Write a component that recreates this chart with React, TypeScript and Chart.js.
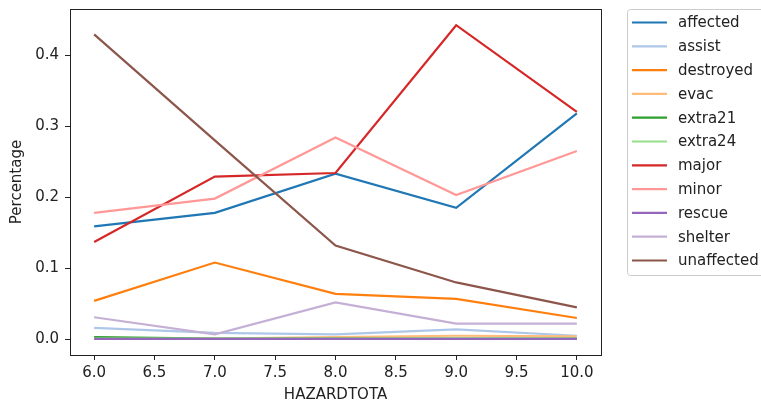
import React, { useEffect, useRef } from "react";
import { Chart, registerables } from "chart.js";

Chart.register(...registerables);

const hazard = [6, 7, 8, 9, 10];
const seriesNames = ["affected", "assist", "destroyed", "evac", "extra21", "extra24", "major", "minor", "rescue", "shelter", "unaffected"];
const affected = [0.159, 0.178, 0.233, 0.185, 0.318];
const assist = [0.016, 0.009, 0.007, 0.014, 0.005];
const destroyed = [0.054, 0.108, 0.064, 0.057, 0.030];
const evac = [0.002, 0.001, 0.003, 0.005, 0.004];
const extra21 = [0.003, 0.001, 0.001, 0.001, 0.001];
const extra24 = [0.001, 0.001, 0.001, 0.001, 0.001];
const major = [0.137, 0.229, 0.234, 0.442, 0.320];
const minor = [0.178, 0.198, 0.284, 0.203, 0.265];
const rescue = [0.0005, 0.0005, 0.0005, 0.0005, 0.0005];
const shelter = [0.031, 0.007, 0.052, 0.022, 0.022];
const unaffected = [0.429, 0.280, 0.132, 0.080, 0.045];
const seriesValues = [affected, assist, destroyed, evac, extra21, extra24, major, minor, rescue, shelter, unaffected];
const colors = ["#1f77b4", "#aec7e8", "#ff7f0e", "#ffbb78", "#2ca02c", "#98df8a", "#d62728", "#ff9896", "#9467bd", "#c5b0d5", "#8c564b"];
const xTicks = [6, 6.5, 7, 7.5, 8, 8.5, 9, 9.5, 10];
const yTicks = [0, 0.1, 0.2, 0.3, 0.4];

const FONT = "DejaVu Sans";
const FS = 15;

const framePlugin = {
  id: "frame",
  afterDatasetsDraw(chart: any) {
    const { ctx, chartArea } = chart;
    ctx.save();
    ctx.strokeStyle = "#222";
    ctx.lineWidth = 1;
    ctx.strokeRect(Math.round(chartArea.left) + 0.5, Math.round(chartArea.top) + 0.5, Math.round(chartArea.right - chartArea.left), Math.round(chartArea.bottom - chartArea.top));
    ctx.restore();
  },
  afterDraw(chart: any) {
    const { ctx } = chart;
    const ds = chart.data.datasets;
    ctx.save();
    const bx = 627.5, by = 9.5, bw = 150, bh = 266;
    ctx.fillStyle = "rgba(255,255,255,0.8)";
    ctx.strokeStyle = "#cccccc";
    ctx.lineWidth = 1;
    ctx.beginPath();
    ctx.roundRect(bx, by, bw, bh, 3);
    ctx.fill();
    ctx.stroke();
    ctx.font = `${FS}px ${FONT}`;
    ctx.textBaseline = "middle";
    ctx.fillStyle = "#222";
    ds.forEach((d: any, i: number) => {
      const y = 22.5 + i * 23.8;
      ctx.strokeStyle = d.borderColor;
      ctx.lineWidth = 2.2;
      ctx.beginPath();
      ctx.moveTo(632, y);
      ctx.lineTo(667, y);
      ctx.stroke();
      ctx.fillText(d.label, 678, y + 1);
    });
    ctx.restore();
  },
};

export default function App() {
  const ref = useRef<HTMLCanvasElement>(null);
  useEffect(() => {
    document.body.style.margin = "0";
    const n = seriesNames.length;
    const chart = new Chart(ref.current!, {
      type: "line",
      data: {
        datasets: seriesNames.map((name, i) => ({
          label: name,
          data: hazard.map((h, j) => ({ x: h, y: seriesValues[i][j] })),
          borderColor: colors[i],
          backgroundColor: colors[i],
          borderWidth: 2.2,
          pointRadius: 0,
          tension: 0,
          fill: false,
          order: n - i,
        })),
      },
      options: {
        animation: false,
        responsive: false,
        events: [],
        layout: { padding: { left: 0, top: 9, right: 160, bottom: 0 } },
        plugins: { legend: { display: false }, tooltip: { enabled: false } },
        scales: {
          x: {
            type: "linear",
            min: 5.8,
            max: 10.2,
            afterBuildTicks: (s: any) => { s.ticks = xTicks.map((v) => ({ value: v })); },
            afterFit: (s: any) => { s.height = 49; s.paddingLeft = 0; s.paddingRight = 0; },
            grid: { drawOnChartArea: false, drawTicks: true, tickLength: 5, color: "#222" },
            border: { display: true, color: "#222" },
            ticks: { color: "#222", font: { family: FONT, size: FS }, padding: 4, maxRotation: 0, callback: (v: any) => Number(v).toFixed(1) },
            title: { display: true, text: "HAZARDTOTA", color: "#222", font: { family: FONT, size: FS }, padding: { top: 2, bottom: 0 } },
          },
          y: {
            type: "linear",
            min: -0.0221,
            max: 0.4648,
            afterBuildTicks: (s: any) => { s.ticks = yTicks.map((v) => ({ value: v })); },
            afterFit: (s: any) => { s.width = 70; s.paddingTop = 0; s.paddingBottom = 0; },
            grid: { drawOnChartArea: false, drawTicks: true, tickLength: 5, color: "#222" },
            border: { display: true, color: "#222" },
            ticks: { color: "#222", font: { family: FONT, size: FS }, padding: 6, callback: (v: any) => Number(v).toFixed(1) },
            title: { display: true, text: "Percentage", color: "#222", font: { family: FONT, size: FS }, padding: { top: 8, bottom: 4 } },
          },
        },
      },
      plugins: [framePlugin],
    });
    return () => chart.destroy();
  }, []);
  return (
    <div style={{ width: 761, height: 404 }}>
      <canvas ref={ref} width={761} height={404} style={{ display: "block", width: 761, height: 404 }} />
    </div>
  );
}
